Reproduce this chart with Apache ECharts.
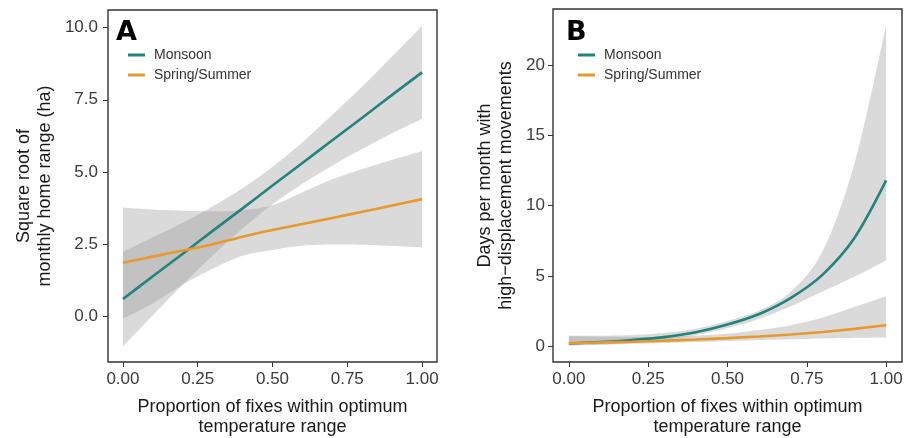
<!DOCTYPE html>
<html>
<head>
<meta charset="utf-8">
<title>Home range and high-displacement movements</title>
<script src="https://cdn.jsdelivr.net/npm/echarts@6/dist/echarts.min.js"></script>
<style>
body { margin: 0; background: #fff; }
#main { width: 906px; height: 438px; }
</style>
</head>
<body>
<div id="main"></div>
<script type="text/javascript">
// proportion of fixes within optimum temperature range
var props = [0, 0.1, 0.2, 0.3, 0.4, 0.5, 0.6, 0.7, 0.8, 0.9, 1.0];
var xTicks = [0, 0.25, 0.5, 0.75, 1];
var yTicksA = [0, 2.5, 5, 7.5, 10];
var yTicksB = [0, 5, 10, 15, 20];
var seasons = ['Monsoon', 'Spring/Summer'];

// panel A: square root of monthly home range (ha)
var monsoonA   = [0.60, 1.39, 2.17, 2.96, 3.74, 4.53, 5.31, 6.10, 6.88, 7.67, 8.45];
var monsoonALo = [-1.04, 0.04, 1.10, 2.11, 3.04, 3.88, 4.59, 5.22, 5.80, 6.34, 6.84];
var monsoonAHi = [2.24, 2.74, 3.24, 3.81, 4.44, 5.18, 6.03, 6.98, 7.96, 9.00, 10.06];
var springA    = [1.86, 2.07, 2.28, 2.50, 2.76, 2.99, 3.20, 3.41, 3.62, 3.84, 4.06];
var springALo  = [-0.08, 0.45, 1.10, 1.65, 2.10, 2.30, 2.45, 2.49, 2.48, 2.44, 2.39];
var springAHi  = [3.77, 3.70, 3.66, 3.64, 3.68, 3.85, 4.30, 4.75, 5.10, 5.42, 5.72];

// panel B: days per month with high-displacement movements
var monsoonB   = [0.20, 0.30, 0.45, 0.65, 1.00, 1.55, 2.30, 3.45, 5.10, 7.70, 11.80];
var monsoonBLo = [0.05, 0.12, 0.25, 0.45, 0.80, 1.30, 1.95, 2.85, 3.90, 4.95, 6.10];
var monsoonBHi = [0.75, 0.75, 0.80, 0.95, 1.25, 1.80, 2.55, 3.90, 6.80, 13.00, 22.85];
var springB    = [0.22, 0.27, 0.32, 0.39, 0.48, 0.58, 0.70, 0.84, 1.02, 1.24, 1.50];
var springBLo  = [0.08, 0.12, 0.17, 0.23, 0.30, 0.37, 0.44, 0.50, 0.56, 0.60, 0.63];
var springBHi  = [0.72, 0.68, 0.66, 0.68, 0.76, 0.90, 1.15, 1.50, 2.05, 2.80, 3.55];

var teal = '#22837f';
var orange = '#e8992c';
var band = 'rgba(153,153,153,0.36)';
var font = "'Liberation Sans', Arial, sans-serif";

function pairs(ys) {
	var out = [];
	for (var i = 0; i < props.length; i++) {
		out.push([props[i], ys[i]]);
	}
	return out;
}
function rows(lo, hi) {
	var out = [];
	for (var i = 0; i < props.length; i++) {
		out.push([props[i], lo[i], hi[i]]);
	}
	return out;
}
// smooth an edge (already in pixels) with catmull-rom, ends stay put
function smoothEdge(p) {
	var out = [], n = p.length, steps = 8;
	for (var i = 0; i < n - 1; i++) {
		var p0 = p[Math.max(i - 1, 0)], p1 = p[i], p2 = p[i + 1], p3 = p[Math.min(i + 2, n - 1)];
		for (var s = 0; s < steps; s++) {
			var t = s / steps, t2 = t * t, t3 = t2 * t;
			var pt = [0, 0];
			for (var k = 0; k < 2; k++) {
				pt[k] = 0.5 * (2 * p1[k] + (-p0[k] + p2[k]) * t
					+ (2 * p0[k] - 5 * p1[k] + 4 * p2[k] - p3[k]) * t2
					+ (-p0[k] + 3 * p1[k] - 3 * p2[k] + p3[k]) * t3);
			}
			out.push(pt);
		}
	}
	out.push(p[n - 1]);
	return out;
}
// confidence ribbon as one polygon, then the fitted line
function addSeries(list, gi, name, color, line, lo, hi) {
	list.push({
		name : name + ' ci', type : 'custom', xAxisIndex : gi, yAxisIndex : gi,
		data : rows(lo, hi), silent : true, z : 1, clip : true,
		encode : { x : 0, y : [1, 2] },
		renderItem : function(params, api) {
			if (params.dataIndex !== 0) return null;
			var top = [], bot = [];
			for (var i = 0; i < props.length; i++) {
				top.push(api.coord([props[i], hi[i]]));
				bot.push(api.coord([props[i], lo[i]]));
			}
			var pts = smoothEdge(top).concat(smoothEdge(bot).reverse());
			return {
				type : 'polygon',
				shape : { points : pts },
				style : { fill : band }
			};
		}
	});
	list.push({
		name : name, type : 'line', xAxisIndex : gi, yAxisIndex : gi,
		data : pairs(line), smooth : 0.3, showSymbol : false,
		itemStyle : { color : color }, lineStyle : { color : color, width : 2.6 }, z : 3
	});
}

function xAxis(gi) {
	return {
		type : 'value', gridIndex : gi, min : -0.05, max : 1.05,
		splitLine : { show : false },
		axisLine : { show : false, onZero : false },
		axisTick : { show : true, length : 5, customValues : xTicks, lineStyle : { color : '#333' } },
		axisLabel : {
			customValues : xTicks, margin : 9, fontSize : 17, color : '#3b3b3b', fontFamily : font,
			formatter : function(v) { return v.toFixed(2); }
		},
		name : 'Proportion of fixes within optimum\ntemperature range',
		nameLocation : 'middle', nameGap : 35,
		nameTextStyle : { fontSize : 18, lineHeight : 20, color : '#1a1a1a', fontFamily : font }
	};
}
function yAxis(gi, min, max, ticks, dec, name, gap, margin) {
	return {
		type : 'value', gridIndex : gi, min : min, max : max,
		splitLine : { show : false },
		axisLine : { show : false, onZero : false },
		axisTick : { show : true, length : 5, customValues : ticks, lineStyle : { color : '#333' } },
		axisLabel : {
			customValues : ticks, margin : margin, fontSize : 17, color : '#3b3b3b', fontFamily : font,
			formatter : function(v) { return v.toFixed(dec); }
		},
		name : name, nameLocation : 'middle', nameGap : gap,
		nameTextStyle : { fontSize : 18, lineHeight : 21, color : '#1a1a1a', fontFamily : font }
	};
}
function legend(left) {
	return {
		data : seasons, orient : 'vertical', left : left, top : 48, padding : 0,
		itemWidth : 17, itemHeight : 3, itemGap : 6, icon : 'rect',
		selectedMode : false,
		textStyle : { fontSize : 14, lineHeight : 14, color : '#333', fontFamily : font, padding : [0, 0, 0, 4] }
	};
}

var series = [];
addSeries(series, 0, 'Monsoon', teal, monsoonA, monsoonALo, monsoonAHi);
addSeries(series, 0, 'Spring/Summer', orange, springA, springALo, springAHi);
addSeries(series, 1, 'Monsoon', teal, monsoonB, monsoonBLo, monsoonBHi);
addSeries(series, 1, 'Spring/Summer', orange, springB, springBLo, springBHi);

var myChart = echarts.init(document.getElementById('main'));
var option = {
	backgroundColor : '#fff',
	animation : false,
	title : [
		{ text : 'A', left : 116, top : 19, padding : 0, textStyle : { fontSize : 27, fontWeight : 'bold', color : '#000', fontFamily : "'DejaVu Sans', Arial, sans-serif" } },
		{ text : 'B', left : 566, top : 19, padding : 0, textStyle : { fontSize : 27, fontWeight : 'bold', color : '#000', fontFamily : "'DejaVu Sans', Arial, sans-serif" } }
	],
	legend : [ legend(128), legend(578) ],
	grid : [
		{ left : 108, top : 10, width : 329, height : 352, show : true, borderColor : '#333', borderWidth : 1.4, backgroundColor : 'transparent', outerBoundsMode : 'none' },
		{ left : 553, top : 9, width : 349, height : 353, show : true, borderColor : '#333', borderWidth : 1.4, backgroundColor : 'transparent', outerBoundsMode : 'none' }
	],
	xAxis : [ xAxis(0), xAxis(1) ],
	yAxis : [
		yAxis(0, -1.58, 10.61, yTicksA, 1, 'Square root of\nmonthly home range (ha)', 52, 10),
		yAxis(1, -1.12, 24, yTicksB, 0, 'Days per month with\nhigh\u2212displacement movements', 36, 8)
	],
	series : series
};
myChart.setOption(option);
</script>
</body>
</html>
